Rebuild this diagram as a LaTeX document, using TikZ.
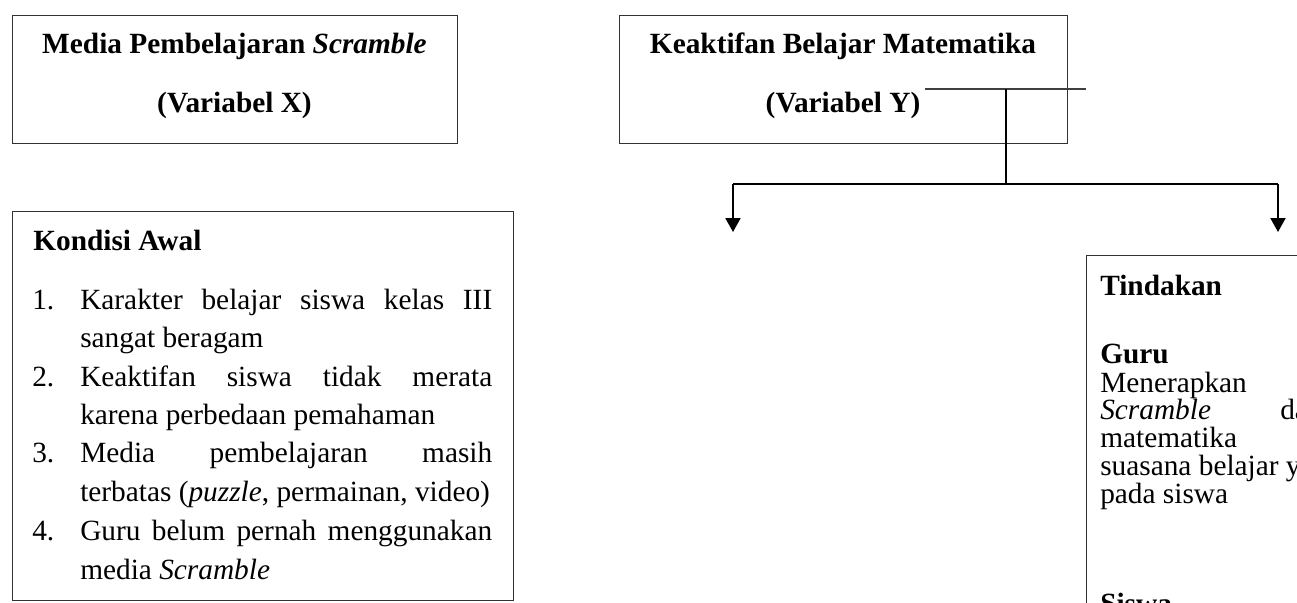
\documentclass[tikz,border=0pt]{standalone}
\usepackage{fontspec}
\setmainfont{Liberation Serif}
\usetikzlibrary{arrows.meta}
\begin{document}
\begin{tikzpicture}[x=0.75pt,y=-0.75pt,
  box/.style={draw=black!80, line width=1.1pt, inner sep=0pt, anchor=north west},
  tx/.style={inner sep=0pt, anchor=base west, font=\fontsize{22}{26}\selectfont},
  tb/.style={inner sep=0pt, anchor=base west, font=\fontsize{22}{26}\selectfont\bfseries},
  tc/.style={inner sep=0pt, anchor=base, font=\fontsize{22}{26}\selectfont\bfseries},
  thin/.style={draw=black!75, line width=0.8pt},
  conn/.style={draw=black, line width=1.1pt},
  arr/.style={draw=black, line width=1.5pt, -{Triangle[width=11.25pt,length=10.5pt]}}]
\useasboundingbox (0,0) rectangle (1297,603);
\clip (0,0) rectangle (1297,603);
\fill[white] (0,0) rectangle (1297,603);
% boxes
\node[box, minimum width=333.75pt, minimum height=96pt] (xbox) at (12,15) {};
\node[box, minimum width=336pt, minimum height=96pt] (ybox) at (619,15) {};
\node[box, minimum width=375.75pt, minimum height=291.75pt] (kbox) at (12,211) {};
\node[box, minimum width=300pt, minimum height=300pt] (tbox) at (1086,255) {};
% titles
\node[tc] (x1) at (234.5,53) {Media Pembelajaran \textit{Scramble}};
\node[tc] (x2) at (234.5,112) {(Variabel X)};
\node[tc] (y1) at (843,53) {Keaktifan Belajar Matematika};
\node[tc] (y2) at (843,112) {(Variabel Y)};
% kondisi awal
\node[tb] (k0) at (33,250) {Kondisi Awal};
\node[tx] (n1) at (32,309) {1.};
\node[tx] (k1) at (80,309) {\makebox[309pt][s]{Karakter belajar siswa kelas III}};
\node[tx] (k2) at (80,347) {sangat beragam};
\node[tx] (n2) at (32,386) {2.};
\node[tx] (k3) at (80,386) {\makebox[309pt][s]{Keaktifan siswa tidak merata}};
\node[tx] (k4) at (80,424) {karena perbedaan pemahaman};
\node[tx] (n3) at (32,462) {3.};
\node[tx] (k5) at (80,462) {\makebox[309pt][s]{Media pembelajaran masih}};
\node[tx] (k6) at (80,501) {terbatas (\textit{puzzle}, permainan, video)};
\node[tx] (n4) at (32,540) {4.};
\node[tx] (k7) at (80,540) {\makebox[309pt][s]{Guru belum pernah menggunakan}};
\node[tx] (k8) at (80,579) {media \textit{Scramble}};
% tindakan
\node[tb] (t0) at (1100,295) {Tindakan};
\node[tb] (t1) at (1100,363) {Guru};
\node[tx] (t2) at (1100,392) {Menerapkan};
\node[tx] (t3) at (1100,419.5) {\textit{Scramble}};
\node[tx] (t3b) at (1280,419.5) {da};
\node[tx] (t4) at (1100,447) {matematika};
\node[tx] (t5) at (1100,475) {suasana belajar y};
\node[tx] (t6) at (1100,503) {pada siswa};
\node[tb] (t7) at (1100,613) {Siswa};
% connectors
\coordinate (tl) at (925,89);
\coordinate (tr) at (1086,89);
\coordinate (j) at (1006,89);
\coordinate (jb) at (1006,184);
\coordinate (bl) at (733,184);
\coordinate (br) at (1278,184);
\coordinate (al) at (733,232);
\coordinate (ar) at (1278,232);
\draw[thin] (tl) -- (tr);
\draw[conn, line width=0.8pt] (j) -- (jb);
\draw[conn] (bl) -- (br);
\draw[arr] (bl) -- (al);
\draw[arr] (br) -- (ar);
\end{tikzpicture}
\end{document}
